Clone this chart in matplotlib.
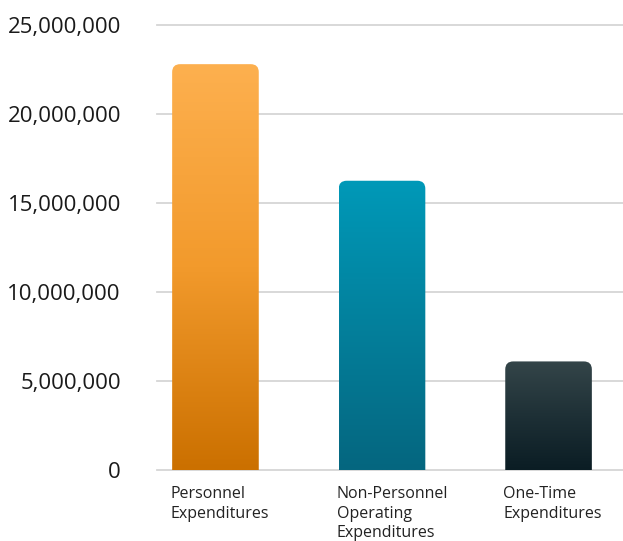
import matplotlib
matplotlib.use('Agg')
import matplotlib.pyplot as plt
import numpy as np
from matplotlib.path import Path
from matplotlib.patches import PathPatch
from matplotlib.colors import LinearSegmentedColormap
from matplotlib.ticker import FuncFormatter
import matplotlib.transforms as mtransforms

categories = ['Personnel\nExpenditures',
              'Non-Personnel\nOperating\nExpenditures',
              'One-Time\nExpenditures']
values = [22800000, 16250000, 6100000]
# (bottom, middle, top) gradient colours per bar
grad_colors = [('#CB7000', '#F29A2C', '#FDB04F'),
               ('#05667F', '#03809C', '#0099B8'),
               ('#0B1D24', '#1E3036', '#344549')]
yticks = [0, 5000000, 10000000, 15000000, 20000000, 25000000]

plt.rcParams['font.family'] = ['Open Sans', 'DejaVu Sans']

W, H = 623, 541
fig = plt.figure(figsize=(W / 100, H / 100), dpi=100)
ax_l, ax_r, ax_t, ax_b = 157, 623, 25, 470
ax = fig.add_axes([ax_l / W, (H - ax_b) / H, (ax_r - ax_l) / W, (ax_b - ax_t) / H])

xlim = (-0.351, 2.447)
ylim = (0, 25000000)
ax.set_xlim(*xlim)
ax.set_ylim(*ylim)

# pixels per data unit, used for the rounded corners
px_x = (ax_r - ax_l) / (xlim[1] - xlim[0])
px_y = (ax_b - ax_t) / (ylim[1] - ylim[0])
radius = 8
rx, ry = radius / px_x, radius / px_y

width = 0.52
x = np.arange(len(categories))
bars = ax.bar(x, values, width=width, color='none', edgecolor='none', zorder=2)

for b, (c0, c1, c2) in zip(bars, grad_colors):
    x0, x1 = b.get_x(), b.get_x() + b.get_width()
    top = b.get_height()
    verts = [(x0, 0), (x0, top - ry), (x0, top), (x0 + rx, top),
             (x1 - rx, top), (x1, top), (x1, top - ry), (x1, 0), (x0, 0)]
    codes = [Path.MOVETO, Path.LINETO, Path.CURVE3, Path.CURVE3,
             Path.LINETO, Path.CURVE3, Path.CURVE3, Path.LINETO, Path.CLOSEPOLY]
    patch = PathPatch(Path(verts, codes), facecolor='none', edgecolor='none')
    ax.add_patch(patch)
    cmap = LinearSegmentedColormap.from_list('g', [c0, c1, c2])
    grad = np.linspace(0, 1, 256).reshape(-1, 1)
    im = ax.imshow(grad, cmap=cmap, extent=[x0, x1, 0, top], origin='lower',
                   aspect='auto', zorder=3)
    im.set_clip_path(patch)

ax.set_xlim(*xlim)
ax.set_ylim(*ylim)

ax.set_yticks(yticks)
ax.yaxis.set_major_formatter(FuncFormatter(lambda v, p: f'{int(v):,}'))
ax.tick_params(axis='y', length=0, pad=26, labelsize=16, labelcolor='#1a1a1a')
ax.set_xticks([])
for s in ax.spines.values():
    s.set_visible(False)
for yv in yticks:
    ax.axhline(yv, color='#d6d6d6', lw=1.3, zorder=1, clip_on=False)

offset = mtransforms.ScaledTranslation(-2 / 100, -16.5 / 100, fig.dpi_scale_trans)
trans = mtransforms.blended_transform_factory(ax.transData, ax.transAxes) + offset
for b, lab in zip(bars, categories):
    ax.text(b.get_x(), 0, lab, transform=trans, ha='left', va='top',
            fontsize=11.5, color='#222222', linespacing=1.28)

fig.savefig('out.png', dpi=100)
